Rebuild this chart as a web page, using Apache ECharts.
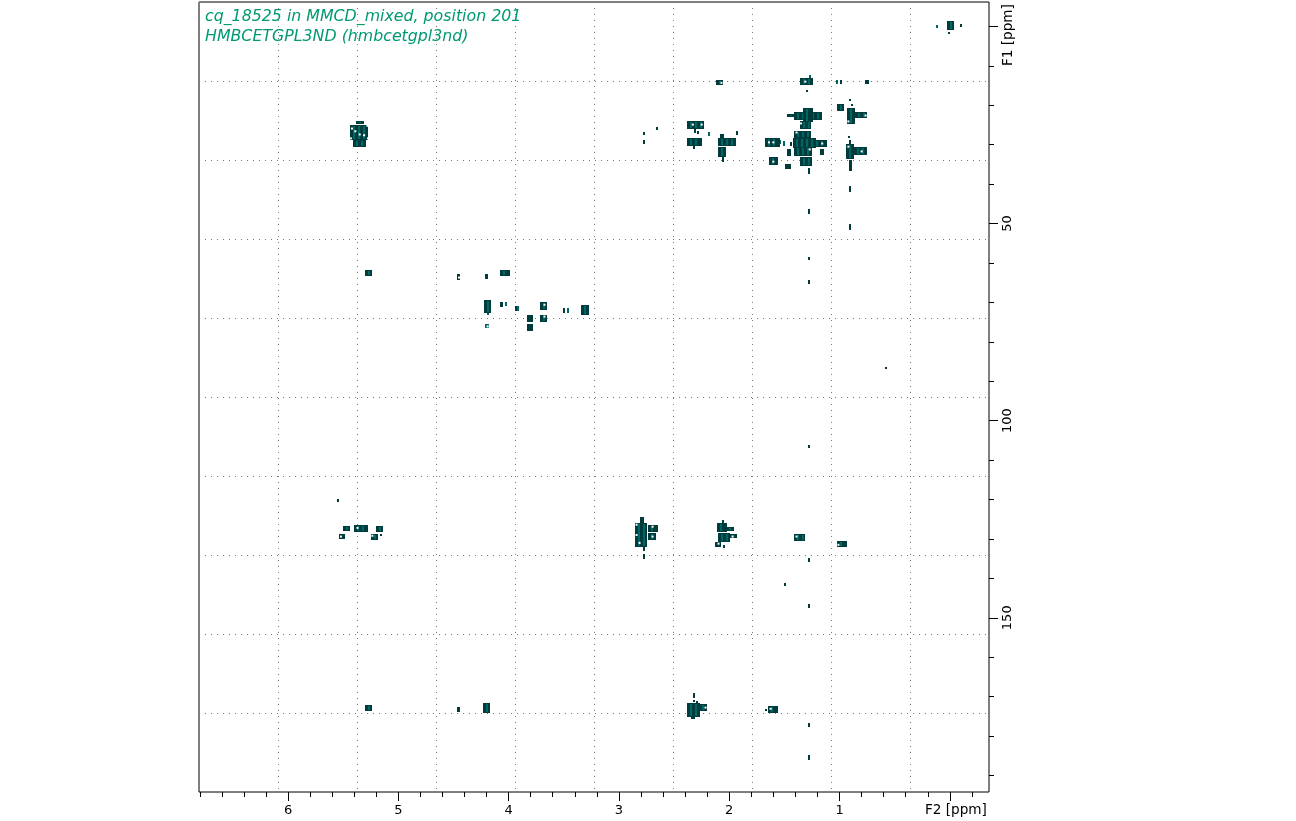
<!DOCTYPE html>
<html>
<head>
<meta charset="utf-8">
<script src="https://cdn.jsdelivr.net/npm/echarts@6/dist/echarts.min.js"></script>
<style>
html,body{margin:0;padding:0;background:#fff;}
#main{width:1296px;height:821px;}
</style>
</head>
<body>
<div id="main"></div>
<script>
// tick positions, ppm
var f2Major = [0, 1, 2, 3, 4, 5, 6];
var f2Minor = [0, 0.2, 0.4, 0.6, 0.8, 1, 1.2, 1.4, 1.6, 1.8, 2, 2.2, 2.4, 2.6, 2.8, 3, 3.2, 3.4, 3.6, 3.8, 4, 4.2, 4.4, 4.6, 4.8, 5, 5.2, 5.4, 5.6, 5.8, 6, 6.2, 6.4, 6.6, 6.8, -0.2];
var f1Major = [0, 50, 100, 150];
var f1Minor = [0, 10, 20, 30, 40, 50, 60, 70, 80, 90, 100, 110, 120, 130, 140, 150, 160, 170, 180, 190];
var f2Labels = [1, 2, 3, 4, 5, 6];
var f1Labels = [50, 100, 150];
var f2Range = [-0.355, 6.807];
var f1Range = [-6.2, 194.2];

// contour extents: [f2 from, f2 to, f1 from, f1 to]
var darkPeaks = [
  [2.12,2.06,13.7,15.0],[1.36,1.24,13.2,15.0],[1.30,1.28,16.0,16.5],[1.00,0.98,13.7,14.7],[0.77,0.73,13.7,14.7],
  [1.02,0.96,19.8,21.6],[0.91,0.89,18.3,18.8],[0.90,0.88,19.8,20.3],[0.93,0.86,20.6,24.6],[0.86,0.755,21.8,23.3],
  [1.41,1.16,21.6,23.6],[1.335,1.245,20.6,24.1],[1.48,1.41,22.3,23.1],[1.36,1.26,24.1,26.1],[1.41,1.26,26.4,28.2],
  [1.42,1.21,28.2,30.7],[1.41,1.245,30.7,33.0],[1.245,1.12,28.7,30.5],[1.36,1.25,33.0,35.3],[1.29,1.27,35.8,37.3],
  [1.48,1.44,31.0,32.7],[1.18,1.145,31.0,32.5],[1.45,1.435,29.2,30.2],[1.49,1.44,35.0,36.3],[1.68,1.545,28.2,30.5],
  [1.64,1.56,33.2,35.3],[2.105,1.94,28.4,30.5],[2.10,2.025,30.5,33.0],[2.07,2.05,33.0,34.3],[2.08,2.04,27.2,28.2],
  [1.94,1.925,26.6,27.7],[2.38,2.225,23.9,25.9],[2.38,2.24,28.2,30.2],[2.33,2.315,30.2,31.2],[2.32,2.305,25.9,26.9],
  [2.29,2.27,26.6,27.4],[2.66,2.64,25.4,26.1],[2.785,2.77,26.9,27.7],[2.785,2.77,28.7,29.7],[0.94,0.865,29.9,33.8],
  [0.865,0.745,30.7,32.7],[0.91,0.88,33.8,36.5],[0.92,0.90,27.7,28.2],[0.91,0.89,28.7,29.9],[0.91,0.89,40.6,42.1],
  [0.91,0.89,50.0,51.5],[1.29,1.27,46.4,47.7],[1.29,1.27,58.4,59.1],[1.29,1.27,64.2,65.2],
  [5.38,5.31,24.1,24.9],[5.435,5.27,24.9,28.7],[5.415,5.30,28.7,30.5],
  [4.465,4.435,62.9,64.5],[4.21,4.18,62.9,64.2],[4.08,3.99,61.9,63.4],[4.22,4.155,69.3,72.6],[4.08,4.05,69.8,71.1],
  [3.945,3.93,70.8,72.1],[3.72,3.655,70.0,72.1],[3.72,3.655,73.1,74.9],[3.51,3.49,71.3,72.6],[3.34,3.27,70.6,73.1],
  [3.83,3.775,73.1,74.9],[3.83,3.775,75.4,77.2],[5.305,5.245,61.9,63.4],[0.59,0.575,86.3,86.8],
  [1.29,1.27,106.1,106.9],[1.29,1.27,134.8,135.8],[1.50,1.48,141.1,141.9],[1.29,1.27,146.4,147.5],
  [1.29,1.27,176.6,177.7],[1.29,1.27,184.8,186.0],[5.56,5.54,120.0,120.8],
  [2.805,2.77,124.4,125.9],[2.85,2.74,125.9,132.0],[2.74,2.65,126.4,128.2],[2.74,2.67,128.4,130.2],
  [2.785,2.77,132.0,133.0],[2.785,2.77,133.8,135.0],
  [2.07,2.05,125.1,125.9],[2.115,2.025,125.9,128.2],[2.025,1.95,126.9,127.9],[2.105,2.0,128.4,130.7],
  [2.0,1.925,128.7,129.7],[2.125,2.07,130.7,132.0],[2.06,2.045,131.5,132.2],
  [1.41,1.31,128.7,130.5],[1.02,0.93,130.5,132.0],
  [5.505,5.445,126.6,127.9],[5.405,5.28,126.4,128.2],[5.20,5.135,126.6,128.2],[5.54,5.49,128.7,130.0],
  [5.25,5.19,128.7,130.2],[5.17,5.15,128.7,129.2],
  [2.33,2.315,169.0,170.3],[2.33,2.315,170.8,171.3],[2.305,2.29,171.1,171.6],[2.385,2.27,171.6,175.1],
  [2.27,2.195,171.8,173.6],[2.35,2.315,175.1,175.6],[1.68,1.66,173.1,173.6],[1.65,1.56,172.3,174.1],
  [5.305,5.245,172.1,173.6],[4.465,4.435,172.6,173.9],[4.23,4.165,171.6,174.1],
  [0.03,-0.035,-1.3,1.0],[0.02,0.0,1.3,1.8],[-0.095,-0.115,-0.5,0.3]
];
var tealPeaks = [
  [1.28,1.26,12.2,13.2],[1.035,1.02,13.7,14.7],[1.51,1.49,29.0,30.2],[1.545,1.525,28.7,29.7],[2.19,2.17,26.9,27.9],
  [4.20,4.18,72.6,73.1],[4.03,4.01,69.8,70.8],[3.92,3.90,70.8,72.1],[3.475,3.455,71.3,72.6],[4.21,4.175,75.6,76.6],
  [0.13,0.11,-0.3,0.5]
];
// white gaps inside the contour rings: [f2, f1]
var contourGaps = [
  [0.764,22.6],[1.157,29.7],[0.80,31.7],[1.60,34.3],[2.25,24.9],[2.33,24.9],[1.60,29.4],[1.64,29.4],[1.31,14.0],
  [2.07,14.3],[4.45,63.7],[4.19,76.1],[3.675,70.6],[3.675,73.6],[2.695,126.9],[2.695,129.4],[2.813,131.0],
  [2.097,131.2],[1.97,129.4],[1.39,129.4],[1.01,131.5],[2.215,172.8],[1.625,173.1],[5.37,127.2],[5.235,129.2],[5.52,129.4],
  [5.42,25.9],[5.28,25.2],[5.43,28.4],[5.275,28.4],[5.35,27.4],[5.39,26.6],[5.31,27.6],
  [1.39,26.9],[1.27,31.2],[1.35,24.6],[2.84,126.4],[2.84,129.0],[0.92,24.1],[0.92,30.5]
];

var titleLines = ['cq_18525 in MMCD_mixed, position 201', 'HMBCETGPL3ND (hmbcetgpl3nd)'];
var dark = '#003c3c', teal = '#006666', axisFont = '"DejaVu Sans"';

function renderPeak(params, api, fill) {
  var a = api.coord([api.value(0), api.value(2)]);
  var b = api.coord([api.value(1), api.value(3)]);
  var x = Math.round(a[0]), y = Math.round(a[1]);
  var w = Math.max(2, Math.round(b[0] - a[0])), h = Math.max(2, Math.round(b[1] - a[1]));
  var kids = [{type: 'rect', shape: {x: x, y: y, width: w, height: h}, style: {fill: fill}}];
  // vertical stripes seen in the thick contours
  if (w >= 7) {
    for (var i = 3; i < w - 2; i += 5) {
      kids.push({type: 'rect', shape: {x: x + i, y: y + 1, width: 2, height: Math.max(1, h - 2)}, style: {fill: teal}});
    }
  }
  return {type: 'group', children: kids};
}

function hiddenAxis(extra) {
  var o = {type: 'value', axisLine: {show: false, onZero: false}, axisLabel: {show: false}, axisTick: {show: false}, splitLine: {show: false}};
  for (var k in extra) o[k] = extra[k];
  return o;
}

var myChart = echarts.init(document.getElementById('main'), null, {renderer: 'canvas'});
var option = {
  animation: false,
  backgroundColor: '#fff',
  title: {
    text: titleLines.join('\n'),
    left: 200, top: 2,
    textStyle: {color: '#009973', fontFamily: axisFont, fontStyle: 'italic', fontWeight: 'normal', fontSize: 15.8, lineHeight: 20}
  },
  grid: {left: 199, top: 2, width: 790, height: 790, show: true, borderColor: '#000', borderWidth: 1, backgroundColor: 'transparent'},
  xAxis: [
    {type: 'value', position: 'bottom', inverse: true, min: f2Range[0], max: f2Range[1],
      axisLine: {show: false, onZero: false}, splitLine: {show: false},
      axisTick: {show: true, length: 9, customValues: f2Major, lineStyle: {color: '#000'}},
      axisLabel: {show: true, customValues: f2Labels, margin: 12, color: '#000', fontFamily: axisFont, fontSize: 13}},
    hiddenAxis({position: 'bottom', inverse: true, min: f2Range[0], max: f2Range[1],
      axisTick: {show: true, length: 5, customValues: f2Minor, lineStyle: {color: '#000'}}}),
    hiddenAxis({position: 'top', min: 0, max: 10, interval: 1,
      splitLine: {show: true, lineStyle: {color: '#777', width: 1, type: [1, 5]}}})
  ],
  yAxis: [
    {type: 'value', position: 'right', inverse: true, min: f1Range[0], max: f1Range[1],
      axisLine: {show: false, onZero: false}, splitLine: {show: false},
      axisTick: {show: true, length: 9, customValues: f1Major, lineStyle: {color: '#000'}},
      axisLabel: {show: true, customValues: f1Labels, rotate: 90, margin: 12, color: '#000', fontFamily: axisFont, fontSize: 13}},
    hiddenAxis({position: 'right', inverse: true, min: f1Range[0], max: f1Range[1],
      axisTick: {show: true, length: 5, customValues: f1Minor, lineStyle: {color: '#000'}}}),
    hiddenAxis({position: 'left', min: 0, max: 10, interval: 1,
      splitLine: {show: true, lineStyle: {color: '#777', width: 1, type: [1, 5]}}})
  ],
  graphic: [
    {type: 'text', left: 925, top: 803, style: {text: 'F2 [ppm]', fill: '#000', font: '13.6px ' + axisFont}},
    {type: 'text', x: 1001, y: 66, rotation: Math.PI / 2, style: {text: 'F1 [ppm]', fill: '#000', font: '13.6px ' + axisFont}}
  ],
  series: [
    {type: 'line', xAxisIndex: 1, yAxisIndex: 1, data: [], silent: true},
    {type: 'line', xAxisIndex: 2, yAxisIndex: 2, data: [], silent: true},
    {type: 'custom', name: 'teal', xAxisIndex: 0, yAxisIndex: 0, data: tealPeaks, z: 3, silent: true,
      encode: {x: [0, 1], y: [2, 3]},
      renderItem: function (params, api) { return renderPeak(params, api, teal); }},
    {type: 'custom', name: 'dark', xAxisIndex: 0, yAxisIndex: 0, data: darkPeaks, z: 4, silent: true,
      encode: {x: [0, 1], y: [2, 3]},
      renderItem: function (params, api) { return renderPeak(params, api, dark); }},
    {type: 'scatter', name: 'gaps', xAxisIndex: 0, yAxisIndex: 0, data: contourGaps, z: 5, silent: true,
      symbol: 'rect', symbolSize: 2, itemStyle: {color: '#fff', opacity: 1}}
  ]
};
myChart.setOption(option, true);
</script>
</body>
</html>
